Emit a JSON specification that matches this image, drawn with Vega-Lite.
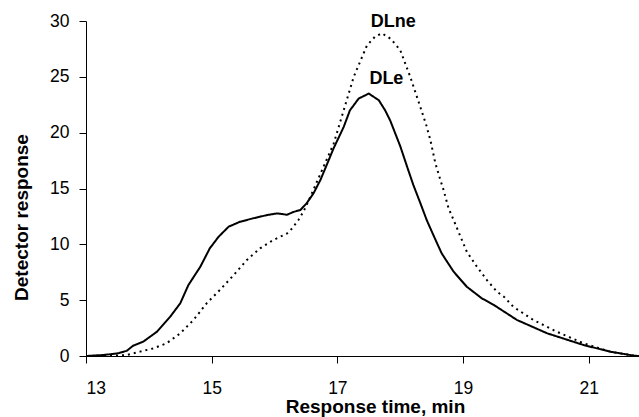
{
  "$schema": "https://vega.github.io/schema/vega-lite/v6.json",
  "width": 553,
  "height": 335,
  "autosize": {"type": "none"},
  "padding": {"left": 86, "top": 21, "right": 0, "bottom": 61},
  "background": "white",
  "config": {
    "view": {"stroke": null},
    "font": "Liberation Sans",
    "axis": {
      "domainColor": "#000000",
      "tickColor": "#000000",
      "domainWidth": 1,
      "tickWidth": 1,
      "tickSize": 7,
      "grid": false,
      "labelColor": "#000000",
      "labelFont": "Liberation Sans",
      "labelFontSize": 17.5,
      "titleColor": "#000000",
      "titleFont": "Liberation Sans",
      "titleFontWeight": "bold",
      "titleFontSize": 19
    }
  },
  "datasets": {
    "curves": [
      {"t": 13.00, "r": 0, "s": "DLe"},
      {"t": 13.28, "r": 0.09, "s": "DLe"},
      {"t": 13.51, "r": 0.24, "s": "DLe"},
      {"t": 13.65, "r": 0.47, "s": "DLe"},
      {"t": 13.75, "r": 0.92, "s": "DLe"},
      {"t": 13.91, "r": 1.28, "s": "DLe"},
      {"t": 14.13, "r": 2.18, "s": "DLe"},
      {"t": 14.34, "r": 3.52, "s": "DLe"},
      {"t": 14.50, "r": 4.72, "s": "DLe"},
      {"t": 14.63, "r": 6.36, "s": "DLe"},
      {"t": 14.82, "r": 8.0, "s": "DLe"},
      {"t": 14.97, "r": 9.64, "s": "DLe"},
      {"t": 15.11, "r": 10.68, "s": "DLe"},
      {"t": 15.27, "r": 11.58, "s": "DLe"},
      {"t": 15.45, "r": 12.02, "s": "DLe"},
      {"t": 15.66, "r": 12.33, "s": "DLe"},
      {"t": 15.88, "r": 12.62, "s": "DLe"},
      {"t": 16.04, "r": 12.77, "s": "DLe"},
      {"t": 16.20, "r": 12.65, "s": "DLe"},
      {"t": 16.30, "r": 12.9, "s": "DLe"},
      {"t": 16.41, "r": 13.07, "s": "DLe"},
      {"t": 16.51, "r": 13.67, "s": "DLe"},
      {"t": 16.62, "r": 14.56, "s": "DLe"},
      {"t": 16.73, "r": 15.76, "s": "DLe"},
      {"t": 16.83, "r": 17.1, "s": "DLe"},
      {"t": 16.94, "r": 18.6, "s": "DLe"},
      {"t": 17.10, "r": 20.5, "s": "DLe"},
      {"t": 17.20, "r": 22.0, "s": "DLe"},
      {"t": 17.34, "r": 23.06, "s": "DLe"},
      {"t": 17.50, "r": 23.5, "s": "DLe"},
      {"t": 17.66, "r": 22.9, "s": "DLe"},
      {"t": 17.76, "r": 22.0, "s": "DLe"},
      {"t": 17.84, "r": 21.1, "s": "DLe"},
      {"t": 18.00, "r": 18.8, "s": "DLe"},
      {"t": 18.11, "r": 16.95, "s": "DLe"},
      {"t": 18.21, "r": 15.3, "s": "DLe"},
      {"t": 18.32, "r": 13.7, "s": "DLe"},
      {"t": 18.42, "r": 12.2, "s": "DLe"},
      {"t": 18.53, "r": 10.8, "s": "DLe"},
      {"t": 18.66, "r": 9.19, "s": "DLe"},
      {"t": 18.85, "r": 7.55, "s": "DLe"},
      {"t": 19.06, "r": 6.2, "s": "DLe"},
      {"t": 19.30, "r": 5.16, "s": "DLe"},
      {"t": 19.49, "r": 4.57, "s": "DLe"},
      {"t": 19.86, "r": 3.22, "s": "DLe"},
      {"t": 20.34, "r": 2.03, "s": "DLe"},
      {"t": 20.92, "r": 0.98, "s": "DLe"},
      {"t": 21.34, "r": 0.39, "s": "DLe"},
      {"t": 21.72, "r": 0.03, "s": "DLe"},
      {"t": 21.80, "r": 0, "s": "DLe"},
      {"t": 13.00, "r": 0, "s": "DLne"},
      {"t": 13.40, "r": 0.02, "s": "DLne"},
      {"t": 13.65, "r": 0.09, "s": "DLne"},
      {"t": 13.86, "r": 0.39, "s": "DLne"},
      {"t": 14.07, "r": 0.68, "s": "DLne"},
      {"t": 14.28, "r": 1.13, "s": "DLne"},
      {"t": 14.50, "r": 2.03, "s": "DLne"},
      {"t": 14.71, "r": 3.22, "s": "DLne"},
      {"t": 14.92, "r": 4.72, "s": "DLne"},
      {"t": 15.13, "r": 5.91, "s": "DLne"},
      {"t": 15.35, "r": 7.25, "s": "DLne"},
      {"t": 15.56, "r": 8.6, "s": "DLne"},
      {"t": 15.77, "r": 9.64, "s": "DLne"},
      {"t": 15.98, "r": 10.38, "s": "DLne"},
      {"t": 16.20, "r": 10.98, "s": "DLne"},
      {"t": 16.28, "r": 11.43, "s": "DLne"},
      {"t": 16.38, "r": 12.18, "s": "DLne"},
      {"t": 16.46, "r": 12.92, "s": "DLne"},
      {"t": 16.55, "r": 14.0, "s": "DLne"},
      {"t": 16.78, "r": 16.95, "s": "DLne"},
      {"t": 16.94, "r": 19.0, "s": "DLne"},
      {"t": 17.10, "r": 22.0, "s": "DLne"},
      {"t": 17.26, "r": 25.0, "s": "DLne"},
      {"t": 17.47, "r": 27.8, "s": "DLne"},
      {"t": 17.60, "r": 28.6, "s": "DLne"},
      {"t": 17.71, "r": 28.9, "s": "DLne"},
      {"t": 17.85, "r": 28.4, "s": "DLne"},
      {"t": 18.00, "r": 27.4, "s": "DLne"},
      {"t": 18.16, "r": 25.0, "s": "DLne"},
      {"t": 18.32, "r": 22.3, "s": "DLne"},
      {"t": 18.41, "r": 20.77, "s": "DLne"},
      {"t": 18.48, "r": 19.34, "s": "DLne"},
      {"t": 18.56, "r": 17.25, "s": "DLne"},
      {"t": 18.64, "r": 15.76, "s": "DLne"},
      {"t": 18.69, "r": 14.86, "s": "DLne"},
      {"t": 18.77, "r": 13.22, "s": "DLne"},
      {"t": 18.85, "r": 12.18, "s": "DLne"},
      {"t": 18.96, "r": 10.68, "s": "DLne"},
      {"t": 19.06, "r": 9.34, "s": "DLne"},
      {"t": 19.22, "r": 8.0, "s": "DLne"},
      {"t": 19.38, "r": 6.8, "s": "DLne"},
      {"t": 19.54, "r": 5.76, "s": "DLne"},
      {"t": 19.65, "r": 5.31, "s": "DLne"},
      {"t": 19.80, "r": 4.41, "s": "DLne"},
      {"t": 20.12, "r": 3.22, "s": "DLne"},
      {"t": 20.49, "r": 2.18, "s": "DLne"},
      {"t": 20.92, "r": 1.13, "s": "DLne"},
      {"t": 21.34, "r": 0.39, "s": "DLne"},
      {"t": 21.72, "r": 0.03, "s": "DLne"},
      {"t": 21.80, "r": 0, "s": "DLne"}
    ],
    "labels": [
      {"t": 17.89, "r": 29.9, "name": "DLne"},
      {"t": 17.78, "r": 24.8, "name": "DLe"}
    ]
  },
  "layer": [
    {
      "data": {"name": "curves"},
      "mark": {"type": "line", "color": "#000000", "strokeWidth": 2, "clip": true},
      "encoding": {
        "x": {
          "field": "t", "type": "quantitative",
          "scale": {"domain": [13, 21.8], "nice": false, "zero": false},
          "axis": {"values": [13, 15, 17, 19, 21], "format": "d", "title": "Response time, min", "labelPadding": 16, "titlePadding": 1, "titleX": 289}
        },
        "y": {
          "field": "r", "type": "quantitative",
          "scale": {"domain": [0, 30], "nice": false},
          "axis": {"values": [0, 5, 10, 15, 20, 25, 30], "format": "d", "title": "Detector response", "labelPadding": 10, "titlePadding": 18, "titleY": 196}
        },
        "detail": {"field": "s"},
        "strokeDash": {
          "field": "s", "type": "nominal",
          "scale": {"domain": ["DLe", "DLne"], "range": [[1, 0], [2, 4]]},
          "legend": null
        }
      }
    },
    {
      "data": {"name": "labels"},
      "mark": {"type": "text", "fontWeight": "bold", "fontSize": 18, "font": "Liberation Sans", "color": "#000000", "baseline": "middle", "align": "center"},
      "encoding": {
        "x": {"field": "t", "type": "quantitative"},
        "y": {"field": "r", "type": "quantitative"},
        "text": {"field": "name"}
      }
    }
  ]
}
